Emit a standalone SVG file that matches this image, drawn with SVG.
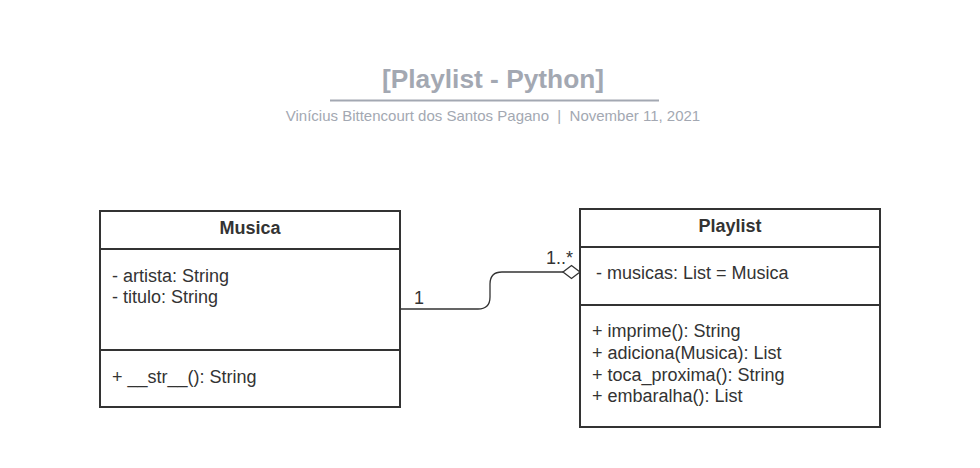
<svg xmlns="http://www.w3.org/2000/svg" width="980" height="468" viewBox="0 0 980 468">
<style>
text{font-family:"Liberation Sans",Arial,sans-serif;fill:#333333;}
.t{font-size:18px;}
.b{font-weight:bold;}
.box{fill:#ffffff;stroke:#333333;stroke-width:2;}
.div{stroke:#333333;stroke-width:2;}
.title{font-size:26.3px;font-weight:bold;fill:#a3a8b2;}
.sub{font-size:15px;fill:#a3a8b2;white-space:pre;}
.conn{fill:none;stroke:#333333;stroke-width:1.3;}
</style>
<rect width="980" height="468" fill="#ffffff"/>
<g id="header">
<text class="title" x="493" y="88" text-anchor="middle">[Playlist - Python]</text>
<line x1="330" y1="100.5" x2="659" y2="100.5" stroke="#a3a8b2" stroke-width="2"/>
<text class="sub" x="493" y="121" text-anchor="middle" xml:space="preserve">Vinícius Bittencourt dos Santos Pagano  |  November 11, 2021</text>
</g>
<g id="connectors">
<path class="conn" d="M400,309 H478 Q490,309 490,297 V284 Q490,272 502,272 H563"/>
<path d="M563,272 L571.5,265.5 L580,272 L571.5,278.5 Z" fill="#ffffff" stroke="#333333" stroke-width="1.3"/>
<text class="t" x="414" y="304">1</text>
<text class="t" x="546" y="264">1..*</text>
</g>
<g id="Musica">
<rect class="box" x="100" y="211" width="300" height="196"/>
<line class="div" x1="100" y1="249" x2="400" y2="249"/>
<line class="div" x1="100" y1="350" x2="400" y2="350"/>
<text class="t b" x="250" y="234" text-anchor="middle">Musica</text>
<text class="t" x="112" y="282">- artista: String</text>
<text class="t" x="112" y="303">- titulo: String</text>
<text class="t" x="112" y="383">+ __str__(): String</text>
</g>
<g id="Playlist">
<rect class="box" x="580" y="209" width="300" height="218"/>
<line class="div" x1="580" y1="247" x2="880" y2="247"/>
<line class="div" x1="580" y1="305" x2="880" y2="305"/>
<text class="t b" x="730" y="232" text-anchor="middle">Playlist</text>
<text class="t" x="596" y="279">- musicas: List = Musica</text>
<text class="t" x="592" y="337">+ imprime(): String</text>
<text class="t" x="592" y="359">+ adiciona(Musica): List</text>
<text class="t" x="592" y="381">+ toca_proxima(): String</text>
<text class="t" x="592" y="402">+ embaralha(): List</text>
</g>
</svg>
